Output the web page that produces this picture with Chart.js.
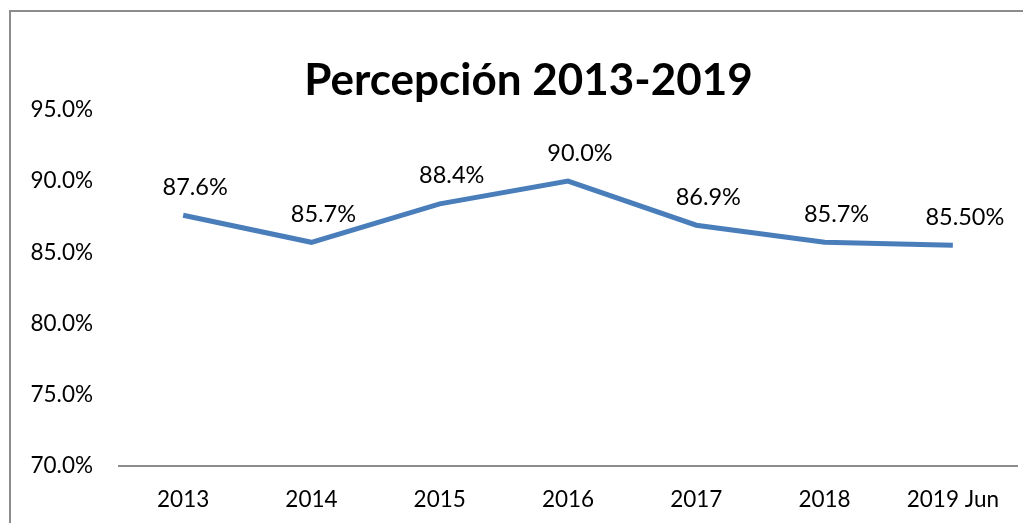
<!DOCTYPE html>
<html>
<head>
<meta charset="utf-8">
<script src="https://cdn.jsdelivr.net/npm/chart.js@4"></script>
<style>
  html, body { margin: 0; padding: 0; background: #fff; }
  #wrap { position: relative; width: 1023px; height: 523px; }
</style>
</head>
<body>
<div id="wrap"><canvas id="chart" width="1023" height="523"></canvas></div>
<script>
const years = ['2013', '2014', '2015', '2016', '2017', '2018', '2019 Jun'];
const perception = [87.6, 85.7, 88.4, 90.0, 86.9, 85.7, 85.5];
const pointLabels = ['87.6%', '85.7%', '88.4%', '90.0%', '86.9%', '85.7%', '85.50%'];
const yTicks = [70, 75, 80, 85, 90, 95];

const FONT = 'Lato, "Open Sans", sans-serif';
const TITLE_FONT = { family: FONT, size: 44, weight: 'bold' };

// gray frame around the chart, running off the right and bottom edge
const framePlugin = {
    id: 'frame',
    beforeDraw(chart) {
        const ctx = chart.ctx;
        ctx.save();
        ctx.fillStyle = '#fff';
        ctx.fillRect(0, 0, chart.width, chart.height);
        ctx.strokeStyle = '#8c8c8c';
        ctx.lineWidth = 2;
        ctx.strokeRect(10, 11, 1100, 600);
        ctx.restore();
    }
};

// value labels above each point, and the title (a bit right of centre, like the original)
const labelPlugin = {
    id: 'pointLabels',
    afterDatasetsDraw(chart) {
        const ctx = chart.ctx;
        const meta = chart.getDatasetMeta(0);
        ctx.save();
        ctx.font = '23.5px ' + FONT;
        ctx.fillStyle = '#000';
        ctx.textAlign = 'center';
        ctx.textBaseline = 'middle';
        meta.data.forEach((pt, i) => {
            ctx.fillText(pointLabels[i], pt.x + 12, pt.y - 28);
        });

        const tb = chart.titleBlock;
        ctx.font = 'bold 44px ' + FONT;
        const ty = tb.top + 54 + 44 * 1.2 / 2;
        ctx.fillText(chart.options.plugins.title.text, chart.width / 2 + 17, ty);
        ctx.restore();
    }
};

new Chart(document.getElementById('chart').getContext('2d'), {
    type: 'line',
    data: {
        labels: years,
        datasets: [{
            data: perception,
            borderColor: '#4a7ebb',
            borderWidth: 5,
            pointRadius: 0,
            tension: 0,
            fill: false,
        }],
    },
    options: {
        responsive: false,
        animation: false,
        layout: { padding: { left: 10, right: 6, top: 0, bottom: 0 } },
        plugins: {
            legend: { display: false },
            tooltip: { enabled: false },
            title: {
                // reserves the space; the text itself is drawn by labelPlugin
                display: true,
                text: 'Percepción 2013-2019',
                color: 'rgba(0,0,0,0)',
                font: TITLE_FONT,
                padding: { top: 54, bottom: 3 },
            },
        },
        scales: {
            x: {
                offset: true,
                grid: { display: false, drawTicks: false },
                border: { display: true, color: '#8c8c8c', width: 2 },
                ticks: {
                    color: '#000',
                    font: { family: FONT, size: 22.5 },
                    padding: 20,
                    maxRotation: 0,
                    autoSkip: false,
                },
                afterFit(scale) { scale.height = 57; },
            },
            y: {
                min: 70,
                max: 95,
                afterBuildTicks(scale) { scale.ticks = yTicks.map(v => ({ value: v })); },
                grid: { display: false, drawTicks: false },
                border: { display: false },
                ticks: {
                    color: '#000',
                    font: { family: FONT, size: 22.5 },
                    padding: 26,
                    callback: v => v.toFixed(1) + '%',
                },
                afterFit(scale) { scale.width = 109; },
            },
        },
    },
    plugins: [framePlugin, labelPlugin],
});
</script>
</body>
</html>
